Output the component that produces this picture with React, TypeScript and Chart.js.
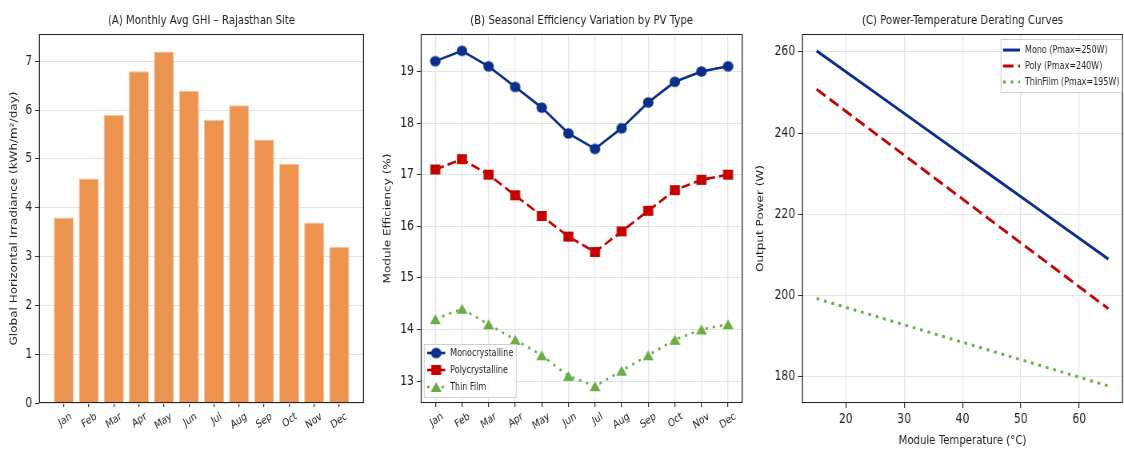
import React, { useEffect, useRef } from 'react';
import { Chart, registerables } from 'chart.js';

Chart.register(...registerables);

// ---------- DATA ----------
const months = ['Jan', 'Feb', 'Mar', 'Apr', 'May', 'Jun', 'Jul', 'Aug', 'Sep', 'Oct', 'Nov', 'Dec'];
const ghiValues = [3.8, 4.6, 5.9, 6.8, 7.2, 6.4, 5.8, 6.1, 5.4, 4.9, 3.7, 3.2];
const ghiTicks = [0, 1, 2, 3, 4, 5, 6, 7];

const monoEff = [19.2, 19.4, 19.1, 18.7, 18.3, 17.8, 17.5, 17.9, 18.4, 18.8, 19.0, 19.1];
const polyEff = [17.1, 17.3, 17.0, 16.6, 16.2, 15.8, 15.5, 15.9, 16.3, 16.7, 16.9, 17.0];
const thinEff = [14.2, 14.4, 14.1, 13.8, 13.5, 13.1, 12.9, 13.2, 13.5, 13.8, 14.0, 14.1];
const effTicks = [13, 14, 15, 16, 17, 18, 19];

const temps = [15, 25, 35, 45, 55, 65];
const monoPower = [260.25, 250, 239.75, 229.5, 219.25, 209];
const polyPower = [250.8, 240, 229.2, 218.4, 207.6, 196.8];
const thinPower = [199.3, 195, 190.7, 186.4, 182.1, 177.8];
const tempTicks = [20, 30, 40, 50, 60];
const powerTicks = [180, 200, 220, 240, 260];

// ---------- STYLE ----------
// The figure is drawn on a wider canvas and displayed horizontally compressed (SX).
const SX = 0.8;
const NAVY = '#0a2f8c';
const RED = '#c40000';
const GREEN = '#6aad45';
const BAR = '#ed9350';
const FONT = '"DejaVu Sans", sans-serif';
const GRID = '#e4e4e4';
const TEXT = '#222';
const H = 449;

const cw = (cssPx: number) => cssPx / SX;

function markerImg(kind: string, color: string): HTMLCanvasElement {
  const c = document.createElement('canvas');
  const wCss = kind === 'circle' ? 10.5 : kind === 'rect' ? 10 : 11;
  const hCss = kind === 'circle' ? 10.5 : 10;
  const w = Math.round(cw(wCss)) + 2;
  const h = Math.round(hCss) + 2;
  c.width = w;
  c.height = h;
  const ctx = c.getContext('2d')!;
  ctx.fillStyle = color;
  ctx.beginPath();
  if (kind === 'circle') {
    ctx.ellipse(w / 2, h / 2, cw(wCss) / 2, hCss / 2, 0, 0, Math.PI * 2);
  } else if (kind === 'rect') {
    ctx.rect(w / 2 - cw(wCss) / 2, h / 2 - hCss / 2, cw(wCss), hCss);
  } else {
    ctx.moveTo(w / 2, 1);
    ctx.lineTo(w / 2 + cw(wCss) / 2, h - 1);
    ctx.lineTo(w / 2 - cw(wCss) / 2, h - 1);
    ctx.closePath();
  }
  ctx.fill();
  return c;
}

const framePlugin = {
  id: 'frame',
  afterDatasetsDraw(chart: any) {
    const { ctx, chartArea } = chart;
    const l = chartArea.left, t = Math.round(chartArea.top) + 0.5, r = chartArea.right, b = Math.round(chartArea.bottom) - 0.5;
    ctx.save();
    ctx.strokeStyle = '#222';
    ctx.setLineDash([]);
    ctx.lineWidth = 1;
    ctx.beginPath();
    ctx.moveTo(l, t); ctx.lineTo(r, t);
    ctx.moveTo(l, b); ctx.lineTo(r, b);
    ctx.stroke();
    ctx.lineWidth = 1.25;
    ctx.beginPath();
    ctx.moveTo(l + 0.6, t); ctx.lineTo(l + 0.6, b);
    ctx.moveTo(r - 0.6, t); ctx.lineTo(r - 0.6, b);
    ctx.stroke();
    ctx.restore();
  },
};

type LegendItem = { label: string; color: string; dash: number[]; lw: number; marker?: HTMLCanvasElement };
type LegendCfg = {
  anchor: 'bl' | 'tr';
  dx: number; dy: number; w: number; h: number;
  rowTop: number; rowH: number; lineX0: number; lineX1: number; markerX: number; textX: number;
  font: string; items: LegendItem[];
};

function makeLegend(cfg: LegendCfg) {
  return {
    id: 'boxLegend',
    afterDraw(chart: any) {
      const { ctx, chartArea } = chart;
      const x = cfg.anchor === 'bl' ? chartArea.left + cfg.dx : chartArea.right - cfg.dx - cfg.w;
      const y = cfg.anchor === 'bl' ? chartArea.bottom - cfg.dy - cfg.h : chartArea.top + cfg.dy;
      ctx.save();
      ctx.fillStyle = 'rgba(255,255,255,0.85)';
      ctx.strokeStyle = '#cfcfcf';
      ctx.lineWidth = 1.1;
      const Y = Math.round(y) + 0.5;
      ctx.beginPath();
      ctx.rect(x, Y, cfg.w, cfg.h);
      ctx.fill();
      ctx.stroke();
      cfg.items.forEach((it, i) => {
        const cy = y + cfg.rowTop + i * cfg.rowH;
        ctx.save();
        ctx.strokeStyle = it.color;
        ctx.lineWidth = it.lw;
        ctx.setLineDash(it.dash);
        ctx.beginPath();
        ctx.moveTo(x + cfg.lineX0, cy);
        ctx.lineTo(x + cfg.lineX1, cy);
        ctx.stroke();
        ctx.restore();
        if (it.marker) {
          const m = it.marker;
          ctx.drawImage(m, x + cfg.markerX - m.width / 2, cy - m.height / 2);
        }
        ctx.fillStyle = TEXT;
        ctx.font = cfg.font;
        ctx.textBaseline = 'middle';
        ctx.textAlign = 'left';
        ctx.fillText(it.label, x + cfg.textX, cy);
      });
      ctx.restore();
    },
  };
}

function titleOpts(text: string) {
  return {
    display: true,
    text,
    fullSize: false,
    color: TEXT,
    font: { family: FONT, size: 12.7, weight: 'normal' as const },
    padding: { top: 13, bottom: 5.8 },
  };
}

function yScale(min: number, max: number, ticks: number[], widthCss: number, title: string, titleCenterCss: number) {
  return {
    type: 'linear' as const,
    min,
    max,
    afterBuildTicks: (s: any) => { s.ticks = ticks.map((v) => ({ value: v })); },
    afterFit: (s: any) => { s.width = cw(widthCss); },
    ticks: { font: { family: FONT, size: 13.5 }, color: TEXT, padding: 3.5, autoSkip: false },
    grid: { color: GRID, tickColor: '#333', tickLength: 5, lineWidth: 1 },
    border: { display: false },
    title: {
      display: true, text: title, color: TEXT, font: { family: FONT, size: 12 },
      padding: { top: cw(titleCenterCss) - 7.2, bottom: 0 },
    },
  };
}

function monthX(min: number, max: number, grid: boolean) {
  return {
    type: 'linear' as const,
    min,
    max,
    offset: false,
    afterBuildTicks: (s: any) => { s.ticks = months.map((_, i) => ({ value: i })); },
    afterFit: (s: any) => { s.height = 46; },
    ticks: {
      font: { family: FONT, size: 11 },
      color: TEXT,
      autoSkip: false,
      minRotation: 30,
      maxRotation: 30,
      labelOffset: 9,
      padding: 3,
      callback: (v: any) => months[Math.round(Number(v))] ?? '',
    },
    grid: { color: GRID, tickColor: '#333', tickLength: 4, lineWidth: 1.25, drawOnChartArea: grid, offset: false },
    border: { display: false },
  };
}

function Panel({ left, width, build }: { left: number; width: number; build: () => any }) {
  const ref = useRef<HTMLCanvasElement>(null);
  useEffect(() => {
    if (!ref.current) return;
    const chart = new Chart(ref.current, build());
    return () => chart.destroy();
  }, []);
  return (
    <canvas
      ref={ref}
      width={Math.round(cw(width))}
      height={H}
      style={{ position: 'absolute', left, top: 0, width: `${width}px`, height: `${H}px` }}
    />
  );
}

const baseOpts = (padRightCss: number, title: string) => ({
  responsive: false,
  animation: false,
  devicePixelRatio: 1,
  layout: { padding: { left: 0, right: cw(padRightCss), top: 0, bottom: 0 } },
  plugins: { legend: { display: false }, tooltip: { enabled: false }, title: titleOpts(title) },
});

function buildA() {
  return {
    type: 'bar',
    data: {
      datasets: [{
        data: ghiValues.map((y, i) => ({ x: i, y })),
        backgroundColor: BAR,
        borderColor: '#f6c29c',
        borderWidth: 1,
        categoryPercentage: 1,
        barPercentage: 0.8,
      }],
    },
    options: {
      ...baseOpts(8, '(A) Monthly Avg GHI – Rajasthan Site'),
      scales: {
        x: monthX(-0.99, 11.99, false),
        y: yScale(0, 7.56, ghiTicks, 39, 'Global Horizontal Irradiance (kWh/m²/day)', 14),
      },
    },
    plugins: [framePlugin],
  };
}

function buildB() {
  const mCircle = markerImg('circle', NAVY);
  const mRect = markerImg('rect', RED);
  const mTri = markerImg('triangle', GREEN);
  return {
    type: 'line',
    data: {
      datasets: [
        { label: 'Monocrystalline', data: monoEff.map((y, i) => ({ x: i, y })), borderColor: NAVY, backgroundColor: NAVY, borderWidth: 2.6, pointStyle: mCircle, tension: 0 },
        { label: 'Polycrystalline', data: polyEff.map((y, i) => ({ x: i, y })), borderColor: RED, backgroundColor: RED, borderWidth: 2.6, borderDash: [11, 5], pointStyle: mRect, tension: 0 },
        { label: 'Thin Film', data: thinEff.map((y, i) => ({ x: i, y })), borderColor: GREEN, backgroundColor: GREEN, borderWidth: 2.6, borderDash: [3, 6], pointStyle: mTri, tension: 0 },
      ],
    },
    options: {
      ...baseOpts(3, '(B) Seasonal Efficiency Variation by PV Type'),
      scales: {
        x: monthX(-0.55, 11.55, true),
        y: yScale(12.575, 19.725, effTicks, 48.7, 'Module Efficiency (%)', 16),
      },
    },
    plugins: [framePlugin, makeLegend({
      anchor: 'bl', dx: cw(3.5), dy: 6, w: cw(92), h: 53, rowTop: 9, rowH: 17,
      lineX0: cw(3), lineX1: cw(21), markerX: cw(12), textX: cw(26),
      font: `10px ${FONT}`,
      items: [
        { label: 'Monocrystalline', color: NAVY, dash: [], lw: 2.6, marker: mCircle },
        { label: 'Polycrystalline', color: RED, dash: [], lw: 2.6, marker: mRect },
        { label: 'Thin Film', color: GREEN, dash: [3, 6], lw: 2.6, marker: mTri },
      ],
    })],
  };
}

function buildC() {
  return {
    type: 'line',
    data: {
      datasets: [
        { label: 'Mono (Pmax=250W)', data: monoPower.map((y, i) => ({ x: temps[i], y })), borderColor: NAVY, borderWidth: 3, pointRadius: 0, tension: 0 },
        { label: 'Poly (Pmax=240W)', data: polyPower.map((y, i) => ({ x: temps[i], y })), borderColor: RED, borderWidth: 3, borderDash: [13, 6], pointRadius: 0, tension: 0 },
        { label: 'ThinFilm (Pmax=195W)', data: thinPower.map((y, i) => ({ x: temps[i], y })), borderColor: GREEN, borderWidth: 3, borderDash: [3.5, 6], pointRadius: 0, tension: 0 },
      ],
    },
    options: {
      ...baseOpts(1, '(C) Power-Temperature Derating Curves'),
      scales: {
        x: {
          type: 'linear',
          min: 12.5,
          max: 67.5,
          afterBuildTicks: (s: any) => { s.ticks = tempTicks.map((v) => ({ value: v })); },
          afterFit: (s: any) => { s.height = 46; },
          ticks: { font: { family: FONT, size: 13.5 }, color: TEXT, padding: 3, autoSkip: false, maxRotation: 0 },
          grid: { color: GRID, tickColor: '#333', tickLength: 5, lineWidth: 1.25 },
          border: { display: false },
          title: { display: true, text: 'Module Temperature (°C)', color: TEXT, font: { family: FONT, size: 12.7 }, padding: { top: 0, bottom: 0.5 } },
        },
        y: yScale(173.6, 264.4, powerTicks, 54, 'Output Power (W)', 13),
      },
    },
    plugins: [framePlugin, makeLegend({
      anchor: 'tr', dx: cw(1), dy: 5, w: cw(121), h: 53, rowTop: 11, rowH: 16,
      lineX0: cw(2), lineX1: cw(19), markerX: 0, textX: cw(24),
      font: `10px ${FONT}`,
      items: [
        { label: 'Mono (Pmax=250W)', color: NAVY, dash: [], lw: 3 },
        { label: 'Poly (Pmax=240W)', color: RED, dash: [13, 6], lw: 3 },
        { label: 'ThinFilm (Pmax=195W)', color: GREEN, dash: [3.5, 6], lw: 3 },
      ],
    })],
  };
}

export default function App() {
  return (
    <div style={{ position: 'absolute', left: 0, top: 0, width: 1124, height: H, background: '#fff', overflow: 'hidden' }}>
      <Panel left={0} width={372} build={buildA} />
      <Panel left={372} width={376} build={buildB} />
      <Panel left={748} width={376} build={buildC} />
    </div>
  );
}
